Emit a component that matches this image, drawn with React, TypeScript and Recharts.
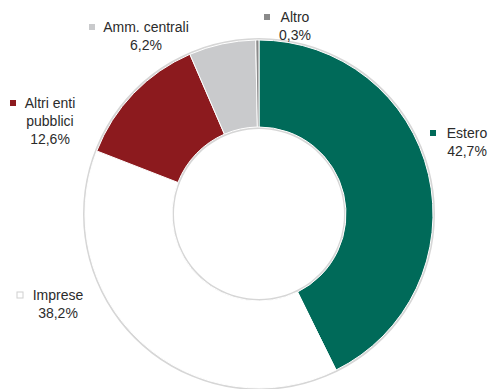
import React from "react";
import { PieChart, Pie, Cell } from "recharts";

const categories = ["Estero", "Imprese", "Altri enti pubblici", "Amm. centrali", "Altro"];
const shares = [42.7, 38.2, 12.6, 6.2, 0.3];
const labelLines = [["Estero"], ["Imprese"], ["Altri enti", "pubblici"], ["Amm. centrali"], ["Altro"]];
const shareLabels = ["42,7%", "38,2%", "12,6%", "6,2%", "0,3%"];

const colors = ["#006A59", "#FFFFFF", "#8C1A1E", "#C9CACC", "#8A8A8A"];
const markerStroke = ["none", "#D0D0D0", "none", "none", "none"];
// label anchor offsets relative to pie centre (layout only)
const labelOffsets: [number, number][] = [
  [208, -81],
  [-201, 81],
  [-209, -111],
  [-113, -187],
  [36, -197],
];
const markerOffsets: number[] = [-34, -38, -37, -54, -28];

const data = categories.map((name, i) => ({ name, value: shares[i] }));
const ring = [{ name: "ring", value: 1 }];

const CX = 259;
const CY = 214;

const renderLabel = (props: any) => {
  const { index, cx, cy } = props;
  const [dx, dy] = labelOffsets[index];
  const x = cx + dx;
  const y = cy + dy;
  const lines = [...labelLines[index], shareLabels[index]];
  const mx = markerOffsets[index];
  return (
    <g key={`lbl-${index}`}>
      <rect
        x={x + mx - 3}
        y={y - 3}
        width={6}
        height={6}
        fill={colors[index]}
        stroke={markerStroke[index]}
        strokeWidth={1}
      />
      <text
        x={x}
        y={y}
        textAnchor="middle"
        fontFamily="Liberation Sans, Arial, sans-serif"
        fontSize={14}
        fill="#2b2b2b"
      >
        {lines.map((l, k) => (
          <tspan key={k} x={x} y={y + k * 18} dy="0.35em">
            {l}
          </tspan>
        ))}
      </text>
    </g>
  );
};

export default function App() {
  return (
    <div style={{ position: "absolute", left: 0, top: 0, background: "#fff" }}>
      <PieChart width={490} height={389} margin={{ top: 0, right: 0, bottom: 0, left: 0 }}>
        <Pie
          data={ring}
          dataKey="value"
          cx={CX}
          cy={CY}
          innerRadius={85}
          outerRadius={176}
          startAngle={90}
          endAngle={-270}
          stroke="none"
          fill="#D6D6D6"
          isAnimationActive={false}
        />
        <Pie
          data={data}
          dataKey="value"
          nameKey="name"
          cx={CX}
          cy={CY}
          innerRadius={87}
          outerRadius={174}
          startAngle={90}
          endAngle={-270}
          stroke="#FFFFFF"
          strokeWidth={1}
          label={renderLabel}
          labelLine={false}
          isAnimationActive={false}
        >
          {data.map((d, i) => (
            <Cell key={d.name} fill={colors[i]} />
          ))}
        </Pie>
      </PieChart>
    </div>
  );
}
